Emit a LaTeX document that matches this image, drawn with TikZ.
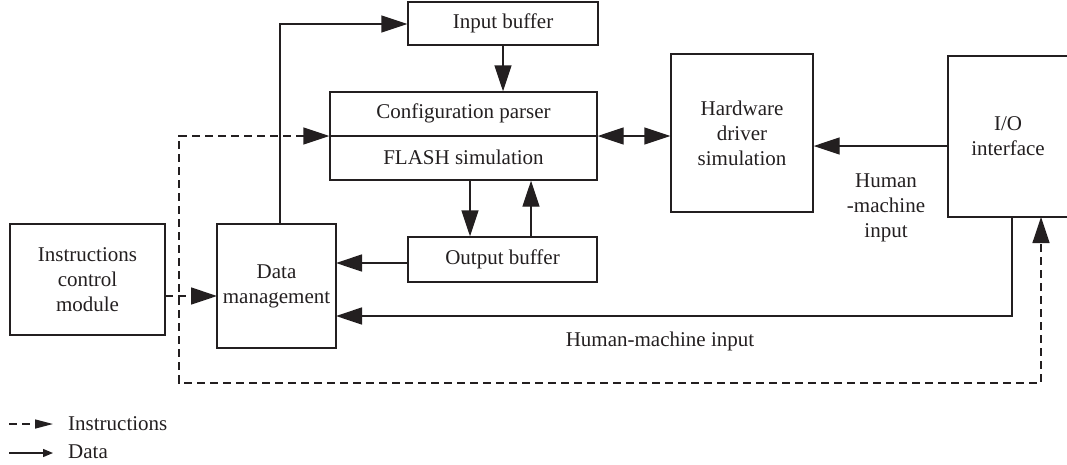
\documentclass[tikz,border=0pt]{standalone}
\usepackage{fontspec}
\setmainfont{Liberation Serif}
\usetikzlibrary{arrows.meta}
\definecolor{ink}{HTML}{231F20}
\begin{document}
\begin{tikzpicture}[x=1pt,y=-1pt,
  every node/.style={font=\fontsize{21}{25}\selectfont, text=ink},
  blk/.style={draw=ink, line width=1.4pt, inner sep=0pt, align=center},
  conn/.style={draw=ink, line width=1.4pt},
  arr/.style={conn, -{Triangle[length=26pt,width=17pt]}},
  darr/.style={conn, {Triangle[length=26pt,width=17pt]}-{Triangle[length=26pt,width=17pt]}},
  dsh/.style={conn, dash pattern=on 8pt off 5pt},
  lbl/.style={align=center, inner sep=0pt}]
\useasboundingbox (0,0) rectangle (1067,464);
\clip (0,0) rectangle (1067,464);

% blocks
\node[blk, minimum width=267pt, minimum height=88pt] (config) at (463.5,136) {};
\node[lbl] (cfgtop) at (463.5,113) {Configuration parser};
\node[lbl] (cfgbot) at (463.5,157) {FLASH simulation};
\draw[conn, line width=2pt] (config.west) -- (config.east);
\node[blk, minimum width=190pt, minimum height=43pt] (inbuf) at (503,23.5) {Input buffer};
\node[blk, minimum width=142pt, minimum height=158pt] (hw) at (742,133) {Hardware\\driver\\simulation};
\node[blk, minimum width=124pt, minimum height=161pt] (io) at (1010,136.5) {};
\node[lbl] (iotxt) at (1008,136) {I/O\\interface};
\node[blk, minimum width=155pt, minimum height=111pt] (ctrl) at (87.5,279.5) {Instructions\\control\\module};
\node[blk, minimum width=119pt, minimum height=124pt] (dm) at (276.5,286) {Data\\management};
\node[blk, minimum width=189pt, minimum height=45pt] (outbuf) at (502.5,259.5) {Output buffer};

% coordinates
\coordinate (dmtop) at (280,224);
\coordinate (c1) at (280,24);
\coordinate (obw) at (408,263);
\coordinate (dme1) at (336,263);
\coordinate (dme2) at (336,316);
\coordinate (iob) at (1012,217);
\coordinate (iob2) at (1012,316);
\coordinate (ioin) at (1041,217);
\coordinate (d1) at (179,136);
\coordinate (d2) at (179,383);
\coordinate (d3) at (1041,383);
\coordinate (ctrle) at (165,296);
\coordinate (dmw) at (217,296);

% data connectors
\draw[arr] (dmtop) -- (c1) -- (inbuf.west |- c1);
\draw[arr] (inbuf.south) -- (inbuf.south |- config.north);
\draw[arr] (config.south -| 470,0) -- (outbuf.north -| 470,0);
\draw[arr] (outbuf.north -| 531,0) -- (config.south -| 531,0);
\draw[arr] (obw) -- (dme1);
\draw[darr] (config.east) -- (config.east -| hw.west);
\draw[arr] (io.west |- 0,146) -- (hw.east |- 0,146);
\draw[arr] (iob) -- (iob2) -- (dme2);

% instruction connectors
\draw[dsh, -{Triangle[length=26pt,width=17pt]}] (ctrle) -- (dmw);
\draw[dsh, {Triangle[length=26pt,width=17pt]}-{Triangle[length=26pt,width=17pt]}] (config.west) -- (d1) -- (d2) -- (d3) -- (ioin);

% labels
\node[lbl] (hmi1) at (886,208) {Human\\-machine\\input};
\node[lbl] (hmi2) at (660,341) {Human-machine input};

% legend
\coordinate (l1a) at (9,424);
\coordinate (l1b) at (53,424);
\coordinate (l2a) at (9,453);
\coordinate (l2b) at (53,453);
\draw[dsh, -{Triangle[length=18pt,width=9pt]}] (l1a) -- (l1b);
\draw[conn, -{Triangle[length=10pt,width=8pt]}] (l2a) -- (l2b);
\node[lbl, anchor=west] (leg1) at (68,424) {Instructions};
\node[lbl, anchor=west] (leg2) at (68,452) {Data};
\end{tikzpicture}
\end{document}
